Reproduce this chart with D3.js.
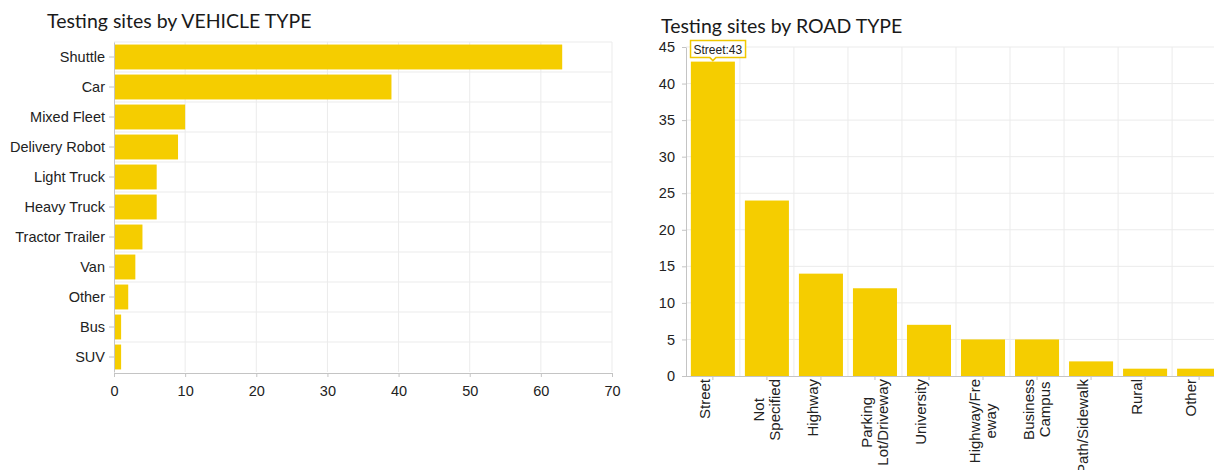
<!DOCTYPE html>
<html>
<head>
<meta charset="utf-8">
<script src="https://cdn.jsdelivr.net/npm/d3@7"></script>
<style>
  body { margin: 0; background: #fff; }
  svg { display: block; font-family: Lato, "Open Sans", sans-serif; }
  .grid line { stroke: #ebebeb; stroke-width: 1; }
  .axis path, .axis line { stroke: #c4c4c4; }
  .axis text { fill: #222; font-size: 14.5px; }
  .title { fill: #1a1a1a; font-size: 19.5px; }
</style>
</head>
<body>
<svg id="chart" width="1214" height="470"></svg>
<script>
// vehicle type data
const vehicleTypes = ["Shuttle", "Car", "Mixed Fleet", "Delivery Robot", "Light Truck", "Heavy Truck",
  "Tractor Trailer", "Van", "Other", "Bus", "SUV"];
const vehicleCounts = [63, 39, 10, 9, 6, 6, 4, 3, 2, 1, 1];
const vehicleTicks = [0, 10, 20, 30, 40, 50, 60, 70];

// road type data
const roadTypes = ["Street", "Not Specified", "Highway", "Parking Lot/Driveway", "University",
  "Highway/Freeway", "Business Campus", "Path/Sidewalk", "Rural", "Other"];
const roadLabels = [["Street"], ["Not", "Specified"], ["Highway"], ["Parking", "Lot/Driveway"], ["University"],
  ["Highway/Fre", "eway"], ["Business", "Campus"], ["Path/Sidewalk"], ["Rural"], ["Other"]];
const roadCounts = [43, 24, 14, 12, 7, 5, 5, 2, 1, 1];
const roadTicks = [0, 5, 10, 15, 20, 25, 30, 35, 40, 45];

const barColor = "#f5cd00";
const svg = d3.select("#chart");

// ---------- left: horizontal bars ----------
const left = svg.append("g");
const x1 = d3.scaleLinear().domain([0, 70]).range([114, 612]);
const y1 = d3.scaleBand().domain(vehicleTypes).range([42, 372]).paddingInner(0.17).paddingOuter(0.085);

left.append("text").attr("class", "title").attr("x", 47).attr("y", 28).text("Testing sites by VEHICLE TYPE");

const g1 = left.append("g").attr("class", "grid");
g1.selectAll(".vg").data(vehicleTicks.slice(1)).enter().append("line")
  .attr("x1", d => x1(d)).attr("x2", d => x1(d)).attr("y1", 42).attr("y2", 372);
g1.selectAll(".hg").data(vehicleTypes).enter().append("line")
  .attr("x1", 114).attr("x2", 612)
  .attr("y1", d => y1(d) - y1.step() * y1.paddingInner() / 2)
  .attr("y2", d => y1(d) - y1.step() * y1.paddingInner() / 2);

left.selectAll("rect").data(vehicleCounts).enter().append("rect")
  .attr("x", x1(0))
  .attr("y", (d, i) => y1(vehicleTypes[i]))
  .attr("width", d => x1(d) - x1(0))
  .attr("height", y1.bandwidth())
  .attr("fill", barColor);

left.append("g").attr("class", "axis").attr("transform", "translate(0,373)")
  .call(d3.axisBottom(x1).tickValues(vehicleTicks).tickSize(4).tickPadding(6))
  .call(g => g.selectAll("text").attr("dy", "0.9em"));
left.append("g").attr("class", "axis").attr("transform", "translate(114,0)")
  .call(d3.axisLeft(y1).tickSize(5).tickPadding(4).tickSizeOuter(0));

// ---------- right: vertical bars ----------
const right = svg.append("g");
const x2 = d3.scaleBand().domain(roadTypes).range([686, 1226]).paddingInner(0.185).paddingOuter(0.09);
const y2 = d3.scaleLinear().domain([0, 45]).range([376, 47]);

right.append("text").attr("class", "title").attr("x", 661).attr("y", 33).text("Testing sites by ROAD TYPE");

const g2 = right.append("g").attr("class", "grid");
g2.selectAll(".hg").data(roadTicks.slice(1)).enter().append("line")
  .attr("x1", 686).attr("x2", 1214).attr("y1", d => y2(d)).attr("y2", d => y2(d));
g2.selectAll(".vg").data(roadTypes.slice(1)).enter().append("line")
  .attr("x1", d => x2(d) - x2.step() * x2.paddingInner() / 2)
  .attr("x2", d => x2(d) - x2.step() * x2.paddingInner() / 2)
  .attr("y1", 47).attr("y2", 376);

right.selectAll("rect").data(roadCounts).enter().append("rect")
  .attr("x", (d, i) => x2(roadTypes[i]))
  .attr("y", d => y2(d))
  .attr("width", x2.bandwidth())
  .attr("height", d => y2(0) - y2(d))
  .attr("fill", barColor);

right.append("g").attr("class", "axis").attr("transform", "translate(686,0)")
  .call(d3.axisLeft(y2).tickValues(roadTicks).tickSize(4).tickPadding(7).tickSizeOuter(0));

const xAxis2 = right.append("g").attr("class", "axis").attr("transform", "translate(0,376)")
  .call(d3.axisBottom(x2).tickSize(4).tickSizeOuter(0));
xAxis2.select(".domain").attr("d", "M683,0.5H1214");
xAxis2.selectAll(".tick text").remove();

// rotated, wrapped labels
xAxis2.selectAll(".tick").each(function (d) {
  const lines = roadLabels[roadTypes.indexOf(d)];
  const t = d3.select(this).append("text")
    .attr("fill", "#222").style("font-size", "15px")
    .attr("transform", "rotate(-90)");
  const spans = lines.map((s, k) => t.append("tspan").text(s));
  const maxLen = d3.max(spans, s => s.node().getComputedTextLength());
  if (lines.length === 1) {
    t.attr("text-anchor", "end");
    spans[0].attr("x", -3).attr("y", -3);
  } else {
    t.attr("text-anchor", "middle");
    spans.forEach((s, k) => s.attr("x", -3 - maxLen / 2).attr("y", k === 0 ? -3 : 13));
  }
});

// tooltip on the Street bar
const tipX = x2(roadTypes[0]) + x2.bandwidth() / 2;
const tipY = y2(roadCounts[0]);
const tip = right.append("g");
const tipText = tip.append("text").attr("x", tipX + 5).attr("y", tipY - 8)
  .attr("text-anchor", "middle").attr("font-family", "Arial, 'Liberation Sans', sans-serif")
  .attr("font-size", 12).attr("fill", "#222").text(roadTypes[0] + ":" + roadCounts[0]);
const bb = tipText.node().getBBox();
tip.insert("path", "text")
  .attr("d", `M${bb.x - 3},${tipY - 21} H${bb.x + bb.width + 3} V${tipY - 4} H${tipX + 3} L${tipX},${tipY - 1} L${tipX - 3},${tipY - 4} H${bb.x - 3} Z`)
  .attr("fill", "#fff").attr("stroke", "#f0c800").attr("stroke-width", 1.5);
</script>
</body>
</html>
